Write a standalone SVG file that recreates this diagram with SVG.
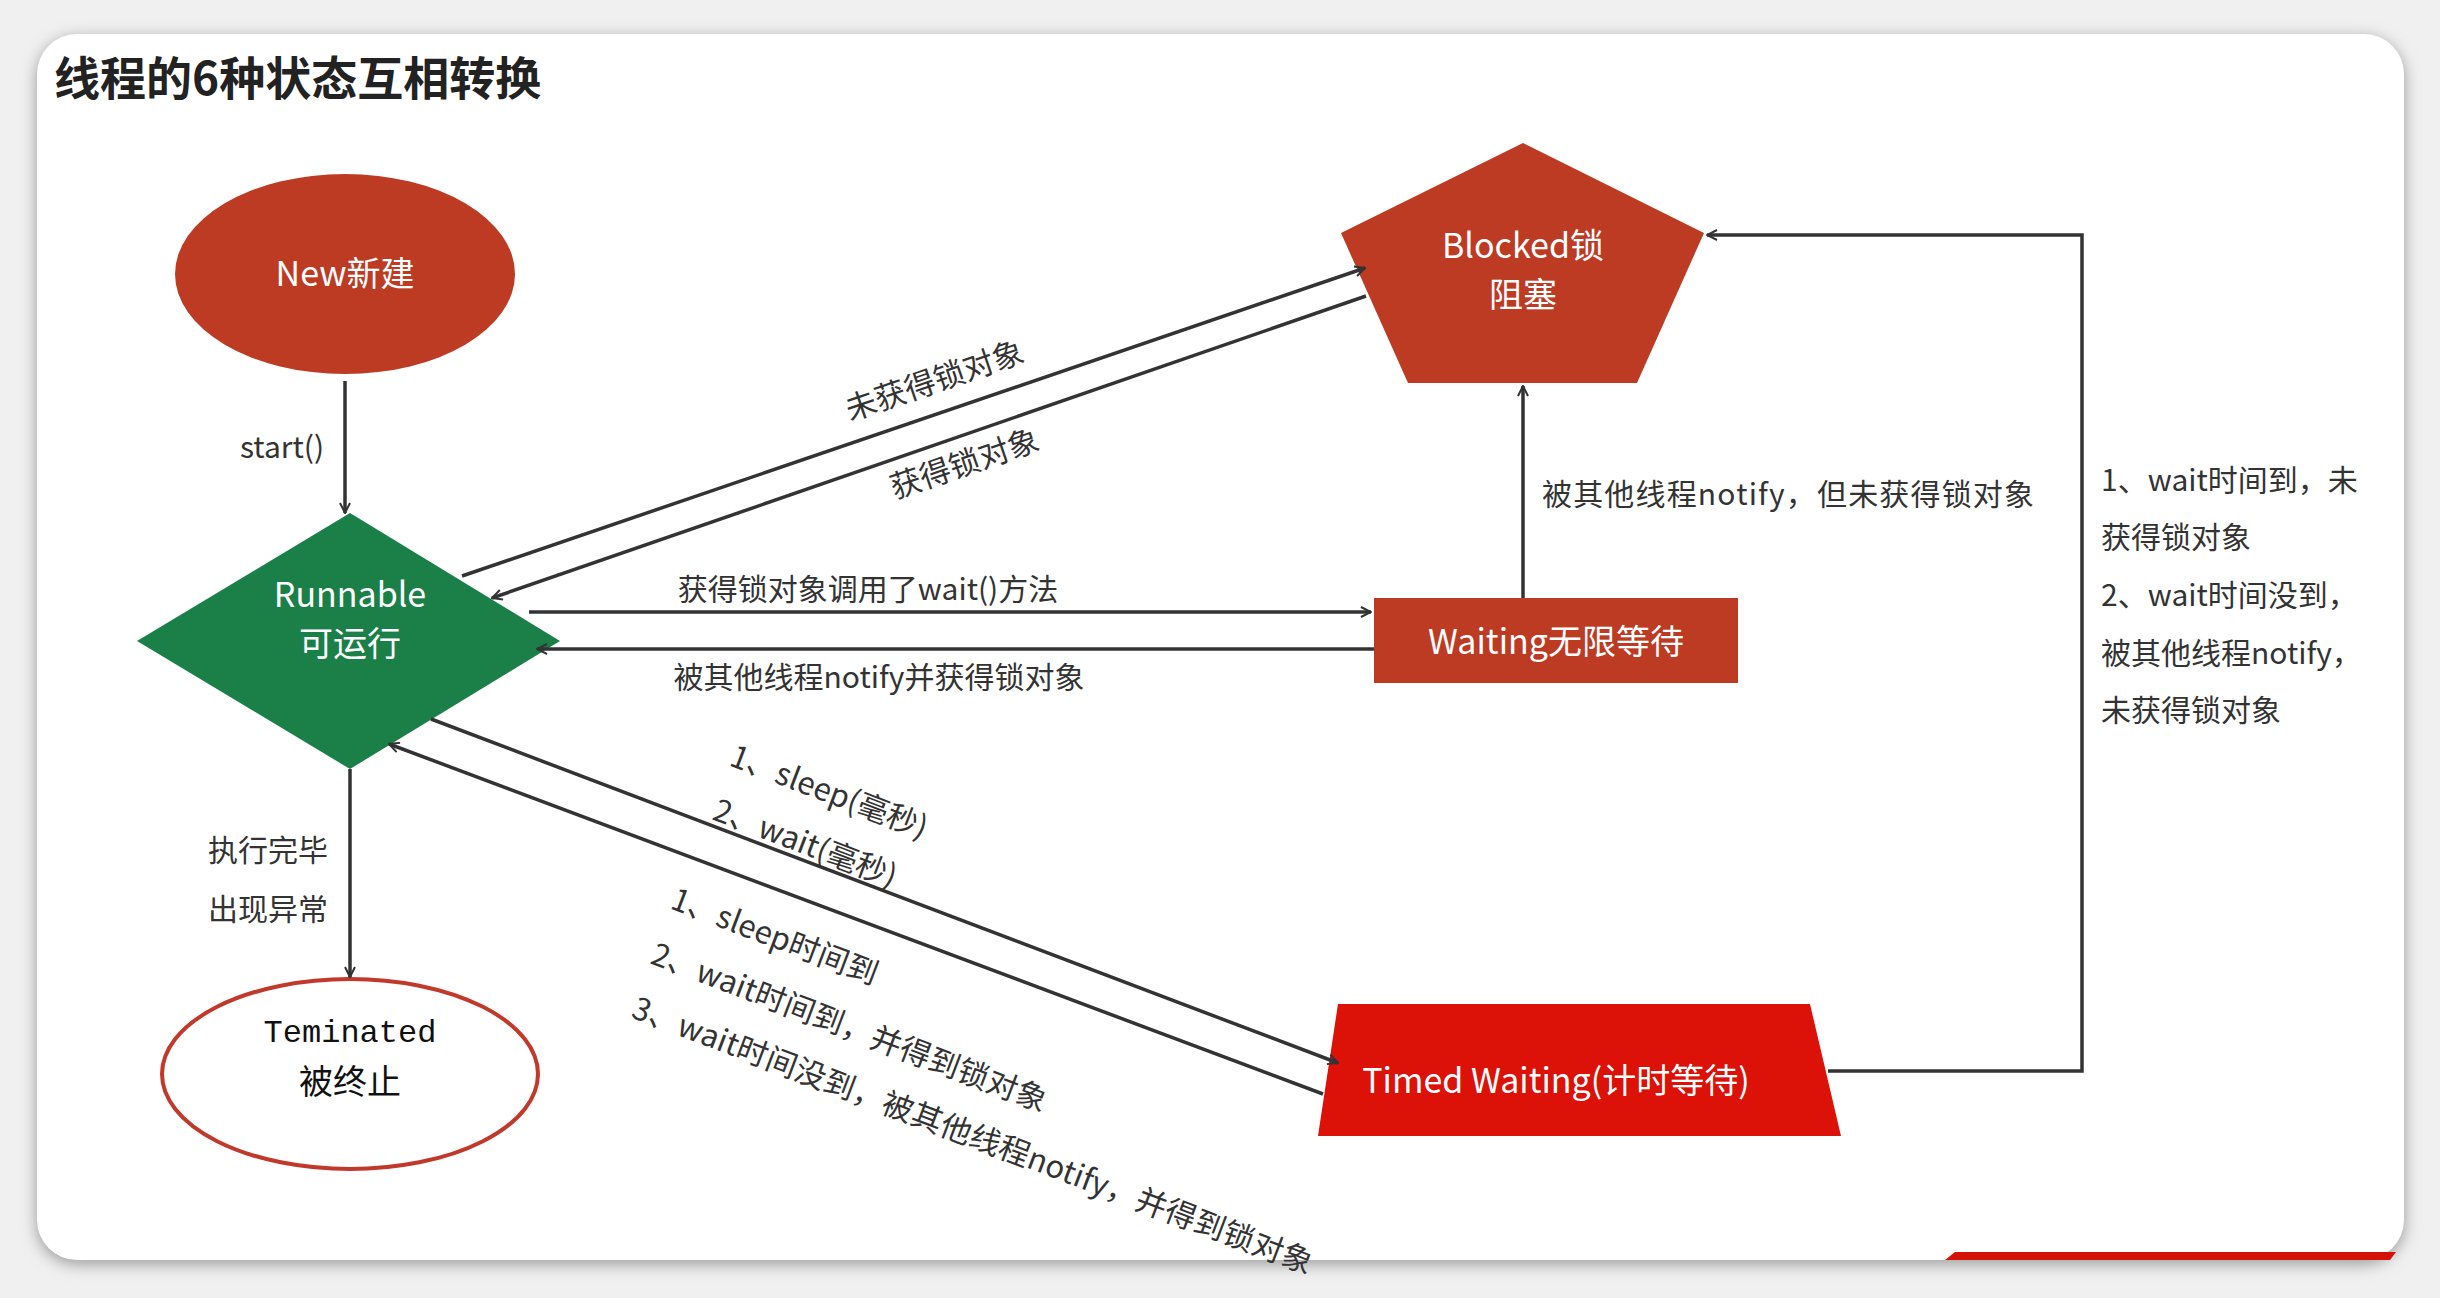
<svg xmlns="http://www.w3.org/2000/svg" width="2440" height="1298" viewBox="0 0 2440 1298">
<defs>
<marker id="ah" viewBox="0 0 12 12" refX="11" refY="6" markerWidth="12" markerHeight="12" markerUnits="userSpaceOnUse" orient="auto"><path d="M1,1 L11,6 L1,11" fill="none" stroke="#333" stroke-width="2"/></marker>
<filter id="sh" x="-5%" y="-5%" width="110%" height="110%"><feGaussianBlur stdDeviation="8"/></filter>
<style>
.ln{stroke:#333;stroke-width:3.5;fill:none;marker-end:url(#ah)}
.lb{font-family:"Noto Sans CJK SC","Noto Sans",sans-serif;font-size:30px;fill:#333}
.rl{font-size:31px}
.nt{font-family:"Noto Sans CJK SC","Noto Sans",sans-serif;font-size:34px;fill:#fff;text-anchor:middle}
</style>
</defs>
<rect width="2440" height="1298" fill="#f0f0f0"/>
<rect x="37" y="38" width="2367" height="1226" rx="40" fill="#999" filter="url(#sh)"/>
<rect x="37" y="34" width="2367" height="1226" rx="40" fill="#fff"/>
<polygon points="1955,1252 2396,1252 2390,1260 1945,1260" fill="#d51207"/>
<text x="54" y="95" font-family="Noto Sans CJK SC,sans-serif" font-size="46" font-weight="bold" fill="#222">线程的6种状态互相转换</text>
<g id="new"><ellipse cx="345" cy="274" rx="170" ry="100" fill="#bd3a23"/><text class="nt" x="345" y="286">New新建</text></g>
<g id="runnable"><polygon points="350,513 560,641 350,769 137,641" fill="#1a8048"/><text class="nt" x="350" y="607">Runnable</text><text class="nt" x="350" y="656">可运行</text></g>
<g id="terminated"><ellipse cx="350" cy="1074" rx="188" ry="95" fill="#fff" stroke="#c0392b" stroke-width="4"/><text x="350" y="1042" text-anchor="middle" font-family="Liberation Mono,monospace" font-size="32" fill="#111">Teminated</text><text x="350" y="1094" text-anchor="middle" font-family="Noto Sans CJK SC,sans-serif" font-size="34" fill="#111">被终止</text></g>
<g id="blocked"><polygon points="1523,143 1704,233 1637,383 1408,383 1341,233" fill="#bd3a23"/><text class="nt" x="1523" y="258" font-size="32">Blocked锁</text><text class="nt" x="1523" y="307" font-size="32">阻塞</text></g>
<g id="waiting"><rect x="1374" y="598" width="364" height="85" fill="#bd3a23"/><text class="nt" x="1556" y="654">Waiting无限等待</text></g>
<g id="timed"><polygon points="1338,1004 1810,1004 1841,1136 1318,1136" fill="#dc1107"/><text class="nt" x="1556" y="1093">Timed Waiting(计时等待)</text></g>
<g id="connectors">
<line class="ln" x1="345" y1="381" x2="345" y2="513"/>
<line class="ln" x1="350" y1="769" x2="350" y2="977"/>
<line class="ln" x1="462" y1="576" x2="1365" y2="268"/>
<line class="ln" x1="1366" y1="296" x2="492" y2="598"/>
<line class="ln" x1="529" y1="612" x2="1371" y2="612"/>
<line class="ln" x1="1374" y1="649" x2="537" y2="649"/>
<line class="ln" x1="1523" y1="598" x2="1523" y2="386"/>
<polyline class="ln" points="1828,1071 2082,1071 2082,235 1707,235"/>
<line class="ln" x1="431" y1="719" x2="1338" y2="1063"/>
<line class="ln" x1="1323" y1="1094" x2="389" y2="744"/>
</g>
<g id="labels" class="lb">
<text x="282" y="458" text-anchor="middle">start()</text>
<text x="268" y="861" text-anchor="middle">执行完毕</text>
<text x="268" y="920" text-anchor="middle">出现异常</text>
<text class="rl" transform="translate(938,391) rotate(-18.9)" text-anchor="middle">未获得锁对象</text>
<text class="rl" transform="translate(968,474) rotate(-18.9)" text-anchor="middle">获得锁对象</text>
<text x="868" y="600" text-anchor="middle">获得锁对象调用了wait()方法</text>
<text x="879" y="688" text-anchor="middle">被其他线程notify并获得锁对象</text>
<text x="1542" y="505" textLength="492">被其他线程notify，但未获得锁对象</text>
<text x="2101" y="491">1、wait时间到，未</text>
<text x="2101" y="548">获得锁对象</text>
<text x="2101" y="606">2、wait时间没到，</text>
<text x="2101" y="664">被其他线程notify，</text>
<text x="2101" y="721">未获得锁对象</text>
<text class="rl" transform="translate(728,765) rotate(20.8)">1、sleep(毫秒)</text>
<text class="rl" transform="translate(711,819) rotate(20.8)">2、wait(毫秒)</text>
<text class="rl" transform="translate(669,908) rotate(20.8)">1、sleep时间到</text>
<text class="rl" transform="translate(649,963) rotate(20.8)">2、wait时间到，并得到锁对象</text>
<text class="rl" transform="translate(630,1017) rotate(20.8)" textLength="725">3、wait时间没到，被其他线程notify，并得到锁对象</text>
</g>
</svg>
